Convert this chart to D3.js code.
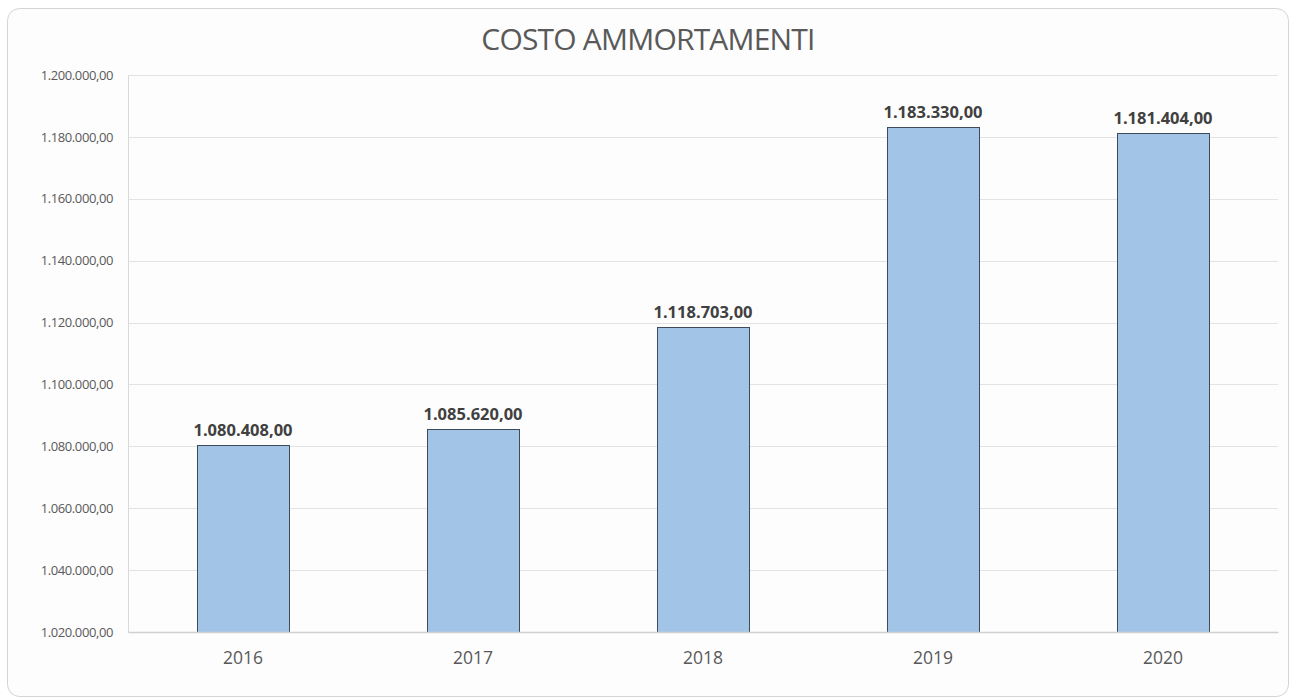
<!DOCTYPE html>
<html>
<head>
<meta charset="utf-8">
<script src="https://cdn.jsdelivr.net/npm/d3@7"></script>
<style>
  html, body { margin: 0; padding: 0; background: #ffffff; }
  svg { display: block; }
</style>
</head>
<body>
<svg id="chart" width="1290" height="700"></svg>
<script>
// Annual depreciation cost (euro)
const years = ["2016", "2017", "2018", "2019", "2020"];
const values = [1080408, 1085620, 1118703, 1183330, 1181404];
const yTicks = [1020000, 1040000, 1060000, 1080000, 1100000, 1120000, 1140000, 1160000, 1180000, 1200000];
const chartTitle = "COSTO AMMORTAMENTI";

const svg = d3.select("#chart");
const W = 1290, H = 700;
const margin = { top: 75, right: 12, bottom: 68, left: 128 };
const plotW = 1278 - margin.left;
const plotH = 632 - margin.top;

// Italian number format: dot thousands, comma decimals
const it = d3.formatLocale({ decimal: ",", thousands: ".", grouping: [3], currency: ["€", ""] });
const fmt = it.format(",.2f");

// Card background with rounded border
svg.append("rect")
  .attr("x", 7.5).attr("y", 8.5)
  .attr("width", W - 9).attr("height", H - 12)
  .attr("rx", 12).attr("ry", 12)
  .attr("fill", "#fdfdfd")
  .attr("stroke", "#d4d4d4")
  .attr("stroke-width", 1);

const g = svg.append("g").attr("transform", `translate(${margin.left},${margin.top})`);

const x = d3.scaleBand().domain(years).range([0, plotW]).paddingInner(0.6).paddingOuter(0.3);
const y = d3.scaleLinear().domain([1020000, 1200000]).range([plotH, 0]);

// Horizontal gridlines
g.append("g")
  .selectAll("line")
  .data(yTicks.slice(1))
  .join("line")
  .attr("x1", 0).attr("x2", plotW)
  .attr("y1", d => Math.round(y(d)) + 0.5)
  .attr("y2", d => Math.round(y(d)) + 0.5)
  .attr("stroke", "#e3e3e3")
  .attr("stroke-width", 1);

// Y axis labels
const yAxis = d3.axisLeft(y).tickValues(yTicks).tickFormat(fmt).tickSize(0).tickPadding(15);
const yG = g.append("g").call(yAxis);
yG.select(".domain").attr("stroke", "#d9d9d9");
yG.selectAll("text")
  .attr("font-family", "'Open Sans', sans-serif")
  .attr("font-size", 13)
  .attr("letter-spacing", -0.4)
  .attr("fill", "#595959");

// Bars
g.append("g")
  .selectAll("rect")
  .data(values)
  .join("rect")
  .attr("x", (d, i) => Math.round(x(years[i])) + 0.5)
  .attr("y", d => Math.round(y(d)) + 0.5)
  .attr("width", x.bandwidth())
  .attr("height", d => plotH - Math.round(y(d)))
  .attr("fill", "#a1c4e7")
  .attr("stroke", "#3f4a5a")
  .attr("stroke-width", 1);

// X axis
const xAxis = d3.axisBottom(x).tickSize(0).tickPadding(20);
const xG = g.append("g").attr("transform", `translate(0,${plotH})`).call(xAxis);
xG.select(".domain").attr("stroke", "#d0d0d0").attr("stroke-width", 1.3);
xG.selectAll("text")
  .attr("font-family", "'Open Sans', sans-serif")
  .attr("font-size", 17.5)
  .attr("fill", "#595959");

// Value labels
g.append("g")
  .selectAll("text")
  .data(values)
  .join("text")
  .attr("x", (d, i) => x(years[i]) + x.bandwidth() / 2)
  .attr("y", d => y(d) - 9)
  .attr("text-anchor", "middle")
  .attr("font-family", "'Open Sans', sans-serif")
  .attr("font-weight", "bold")
  .attr("font-size", 16.5)
  .attr("fill", "#404040")
  .text(d => fmt(d));

// Title
svg.append("text")
  .attr("x", 648)
  .attr("y", 50)
  .attr("text-anchor", "middle")
  .attr("font-family", "'Open Sans', sans-serif")
  .attr("font-size", 30)
  .attr("letter-spacing", -0.8)
  .attr("fill", "#595959")
  .text(chartTitle);
</script>
</body>
</html>
